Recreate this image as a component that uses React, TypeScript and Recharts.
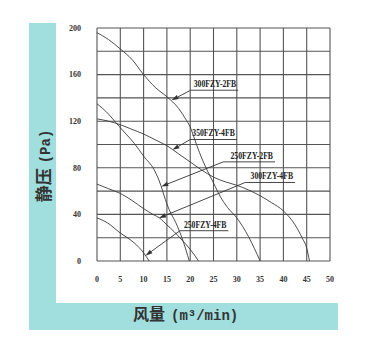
import React from "react";
import { LineChart, Line, XAxis, YAxis, CartesianGrid, ReferenceLine } from "recharts";

// air volume (m3/min) vs static pressure (Pa)
const fan300FZY2FB = [
  [0, 196], [2.5, 190], [5, 182], [7.5, 173], [10, 160], [12.5, 149], [15, 141], [17.5, 131],
  [19, 122], [20, 115], [21, 104], [22, 93], [23.5, 79], [25, 67], [26.5, 55], [28, 46],
  [30, 37], [32.5, 21], [35, 0],
];
const fan350FZY4FB = [
  [0, 122], [2.5, 120], [5, 117], [7.5, 113], [10, 109], [12.5, 104], [15, 99], [17.5, 92],
  [20, 85], [22.5, 78], [25, 72], [27.5, 68], [30, 65], [32.5, 61], [35, 56], [37.5, 50],
  [40, 43], [42.5, 31], [44, 20], [45, 11], [45.6, 0],
];
const fan250FZY2FB = [
  [0, 135], [2.5, 126], [4, 119], [6, 110], [8, 101], [10, 90], [12.3, 78], [13.7, 65],
  [14.4, 56], [15.5, 44], [16.9, 33], [18.4, 18], [19.8, 0],
];
const fan300FZY4FB = [
  [0, 66], [2.5, 62], [5, 58], [7.5, 52], [10, 45], [12, 40], [13.4, 37], [15, 31],
  [16.6, 25], [18, 19], [20, 10], [21.8, 0],
];
const fan250FZY4FB = [
  [0, 37], [2.3, 32.6], [5, 24], [6.5, 20], [8, 15.5], [10, 7], [11.2, 0],
];

const xTicks = [0, 5, 10, 15, 20, 25, 30, 35, 40, 45, 50];
const yTicks = [0, 20, 40, 60, 80, 100, 120, 140, 160, 180, 200];
const yLabelTicks = [0, 40, 80, 120, 160, 200];

// callouts: [name, tipX, tipY, elbowX, elbowY, underlineEndX]
const callouts: [string, number, number, number, number, number][] = [
  ["300FZY-2FB", 16, 138, 20.1, 146.6, 30.3],
  ["350FZY-4FB", 16.2, 95.4, 20, 104.3, 30],
  ["250FZY-2FB", 13.8, 64, 27.1, 85.1, 38.2],
  ["300FZY-4FB", 13.3, 36.9, 31.8, 67.4, 42.5],
  ["250FZY-4FB", 10.4, 4.6, 17.8, 26, 28.2],
];

const series = [
  { name: "300FZY-2FB", pts: fan300FZY2FB },
  { name: "350FZY-4FB", pts: fan350FZY4FB },
  { name: "250FZY-2FB", pts: fan250FZY2FB },
  { name: "300FZY-4FB", pts: fan300FZY4FB },
  { name: "250FZY-4FB", pts: fan250FZY4FB },
];

const TEAL = "#a1dede";
const INK = "#333";

const arrowShape = (p: any) => {
  const { x1, y1, x2, y2 } = p;
  const a = Math.atan2(y2 - y1, x2 - x1);
  const len = 7;
  const hw = 2.2;
  const bx = x2 - len * Math.cos(a);
  const by = y2 - len * Math.sin(a);
  const nx = -Math.sin(a) * hw;
  const ny = Math.cos(a) * hw;
  return (
    <g>
      <line x1={x1} y1={y1} x2={bx} y2={by} stroke={INK} strokeWidth={0.9} />
      <polygon points={`${x2},${y2} ${bx + nx},${by + ny} ${bx - nx},${by - ny}`} fill={INK} />
    </g>
  );
};

const underlineShape = (text: string) => (p: any) => {
  const { x1, y1, x2, y2 } = p;
  return (
    <g>
      <line x1={x1} y1={y1} x2={x2} y2={y2} stroke={INK} strokeWidth={0.9} />
      <text
        x={x2 - 2}
        y={y1 - 3}
        textAnchor="end"
        textLength={42.5}
        lengthAdjust="spacingAndGlyphs"
        fontFamily="'Liberation Serif', serif"
        fontWeight="bold"
        fontSize={10}
        fill="#222"
      >
        {text}
      </text>
    </g>
  );
};

const YTick = (p: any) => {
  const { x, y, payload } = p;
  if (!yLabelTicks.includes(payload.value)) return <g />;
  return (
    <text x={x} y={y} dy="0.355em" textAnchor="end" fontFamily="'Liberation Serif', serif" fontWeight="bold" fontSize={8} fill="#333">
      {payload.value}
    </text>
  );
};

const XTick = (p: any) => {
  const { x, y, payload } = p;
  return (
    <text x={x} y={y} dy="0.71em" textAnchor="middle" fontFamily="'Liberation Serif', serif" fontWeight="bold" fontSize={8} fill="#333">
      {payload.value}
    </text>
  );
};

export default function App() {
  return (
    <div style={{ position: "absolute", left: 0, top: 0, width: 365, height: 359, background: "#fff" }}>
      <div style={{ position: "absolute", left: 29, top: 23, width: 27, height: 307, background: TEAL }} />
      <div style={{ position: "absolute", left: 29, top: 303, width: 309, height: 27, background: TEAL }} />
      <div style={{ position: "absolute", left: 0, top: 0 }}>
        <LineChart width={365} height={359} margin={{ top: 28, right: 35, bottom: 68, left: 0 }}>
          <CartesianGrid stroke="#555" strokeWidth={1.1} />
          <XAxis
            type="number"
            dataKey="x"
            domain={[0, 50]}
            ticks={xTicks}
            axisLine={false}
            tickLine={false}
            tickSize={0}
            tickMargin={15}
            height={30}
            tick={<XTick />}
            allowDataOverflow
          />
          <YAxis
            type="number"
            dataKey="y"
            domain={[0, 200]}
            ticks={yTicks}
            axisLine={false}
            tickLine={false}
            tickSize={0}
            tickMargin={16}
            width={97}
            tick={<YTick />}
            interval={0}
            allowDataOverflow
          />
          {series.map((s) => (
            <Line
              key={s.name}
              name={s.name}
              data={s.pts.map(([x, y]) => ({ x, y }))}
              dataKey="y"
              type="monotone"
              stroke="#3a3a3a"
              strokeWidth={0.9}
              dot={false}
              isAnimationActive={false}
            />
          ))}
          {callouts.map(([name, tx, ty, ex, ey]) => (
            <ReferenceLine
              key={name + "-arrow"}
              segment={[{ x: ex, y: ey }, { x: tx, y: ty }]}
              shape={arrowShape}
            />
          ))}
          {callouts.map(([name, , , ex, ey, endX]) => (
            <ReferenceLine
              key={name + "-label"}
              segment={[{ x: ex, y: ey }, { x: endX, y: ey }]}
              shape={underlineShape(name)}
            />
          ))}
        </LineChart>
      </div>
      <svg width={365} height={359} style={{ position: "absolute", left: 0, top: 0, pointerEvents: "none" }}>
        <text x={133} y={320} fontWeight="bold" fill="#333">
          <tspan fontFamily="'Noto Sans CJK SC', sans-serif" fontSize={16}>风量</tspan>
          <tspan fontFamily="'Liberation Mono', monospace" fontSize={14} dx={6}>(m³/min)</tspan>
        </text>
        <text transform="translate(50,166) rotate(-90)" textAnchor="middle" fontWeight="bold" fill="#333">
          <tspan fontFamily="'Noto Sans CJK SC', sans-serif" fontSize={17}>静压</tspan>
          <tspan fontFamily="'Liberation Mono', monospace" fontSize={14} dx={5}>(Pa)</tspan>
        </text>
      </svg>
    </div>
  );
}
